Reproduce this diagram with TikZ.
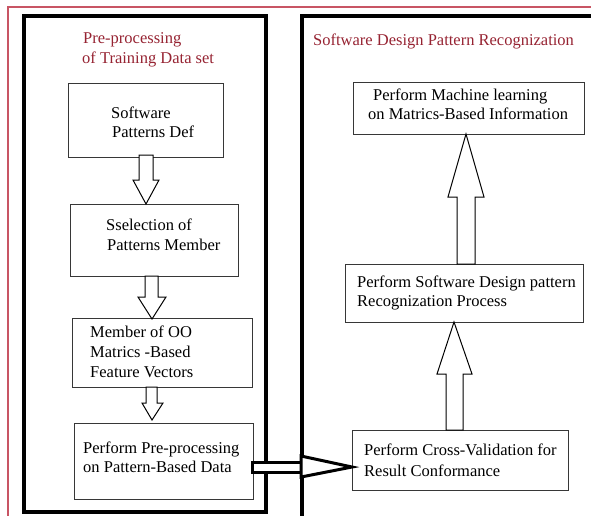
\documentclass[tikz,border=0pt]{standalone}
\usepackage{fontspec}
\setmainfont{Liberation Serif}
\definecolor{framered}{RGB}{200,85,100}
\definecolor{titlered}{RGB}{150,35,50}
\definecolor{boxgray}{RGB}{55,55,55}
\begin{document}
\begin{tikzpicture}[x=1pt,y=-1pt,
  txt/.style={anchor=base west,inner sep=0pt,font=\fontsize{16.5}{19}\selectfont},
  ttl/.style={txt,text=titlered},
  stepbox/.style={draw=boxgray,line width=1pt},
  bigbox/.style={draw=black,line width=4pt},
  blockarrow/.style={draw=black,line width=1pt,fill=white,line join=miter},
  thickarrow/.style={draw=black,line width=3pt,fill=white,line join=miter}]
\useasboundingbox (0,0) rectangle (591,515);
% outer frame
\draw[framered,line width=1.3pt] (8,520) -- (8,7) -- (600,7);
% big panels
\draw[bigbox] (24,16) rectangle (266,512);
\draw[bigbox] (301.5,525) -- (301.5,16) -- (600,16);
% titles
\node[ttl] (t1a) at (83,43) {Pre-processing};
\node[ttl] (t1b) at (82,63) {of Training Data set};
\node[ttl] (t2) at (313,45) {Software Design Pattern Recognization};
% left boxes
\draw[stepbox] (68,83) rectangle (223,157) coordinate (b1);
\draw[stepbox] (70,204) rectangle (238,276) coordinate (b2);
\draw[stepbox] (72,318) rectangle (252,387) coordinate (b3);
\draw[stepbox] (74,423) rectangle (253,499) coordinate (b4);
% right boxes
\draw[stepbox] (353,82) rectangle (584,134) coordinate (b5);
\draw[stepbox] (345,264) rectangle (583,322) coordinate (b6);
\draw[stepbox] (352,430) rectangle (568,490) coordinate (b7);
% texts
\node[txt] (l1a) at (111,118) {Software};
\node[txt] (l1b) at (112,137) {Patterns Def};
\node[txt] (l2a) at (106,230) {Sselection of};
\node[txt] (l2b) at (107,250) {Patterns Member};
\node[txt] (l3a) at (90,337) {Member of OO};
\node[txt] (l3b) at (90,357) {Matrics -Based};
\node[txt] (l3c) at (90,377) {Feature Vectors};
\node[txt] (l4a) at (83,453) {Perform Pre-processing};
\node[txt] (l4b) at (83,472) {on Pattern-Based Data};
\node[txt] (l5a) at (373,100) {Perform Machine learning};
\node[txt] (l5b) at (368,119) {on Matrics-Based Information};
\node[txt] (l6a) at (357,287) {Perform Software Design pattern};
\node[txt] (l6b) at (357,306) {Recognization Process};
\node[txt] (l7a) at (364,455) {Perform Cross-Validation for};
\node[txt] (l7b) at (364,476) {Result Conformance};
% down arrows (left)
\draw[blockarrow] (139,155) -- (153,155) -- (153,180) -- (159,180) -- (146,204)
  -- (133,180) -- (139,180) -- cycle;
\draw[blockarrow] (145,276) -- (158,276) -- (158,297) -- (166,297) -- (152,319)
  -- (138,297) -- (145,297) -- cycle;
\draw[blockarrow] (146,387) -- (157,387) -- (157,403) -- (163,403) -- (152,420)
  -- (142,403) -- (146,403) -- cycle;
% up arrows (right)
\draw[blockarrow] (457,264) -- (457,197) -- (448,197) -- (466,134) -- (484,197)
  -- (475,197) -- (475,264) -- cycle;
\draw[blockarrow] (446,430) -- (446,374) -- (437,374) -- (454,322) -- (472,374)
  -- (463,374) -- (463,430) -- cycle;
% horizontal arrow
\draw[thickarrow] (252,462) rectangle (301,472);
\draw[thickarrow] (301,456) -- (352,467) -- (301,477) -- cycle;
\end{tikzpicture}
\end{document}
